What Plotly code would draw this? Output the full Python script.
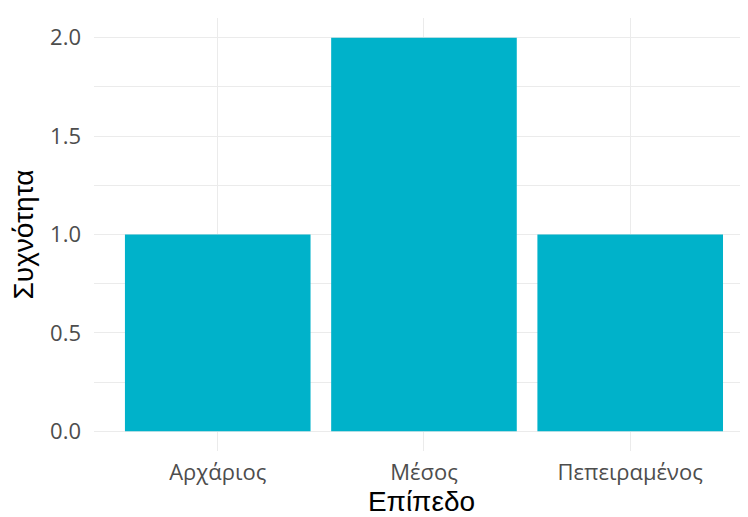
import plotly.graph_objects as go

categories = ["Αρχάριος", "Μέσος", "Πεπειραμένος"]
counts = [1, 2, 1]
y_ticks = [0.0, 0.5, 1.0, 1.5, 2.0]
y_tick_labels = ["0.0", "0.5", "1.0", "1.5", "2.0"]

fig = go.Figure(go.Bar(
    x=categories, y=counts, width=0.9,
    marker=dict(color="#00B2CA", line=dict(width=0)),
))

grid = "#EBEBEB"
fig.update_layout(
    width=748, height=517,
    margin=dict(l=86, r=7, t=10, b=74),
    paper_bgcolor="white", plot_bgcolor="white",
    showlegend=False,
    font=dict(family="Liberation Sans, Arial", color="black"),
)
fig.update_xaxes(
    automargin=False,
    range=[-0.6, 2.576], showgrid=True, gridcolor=grid, gridwidth=1.1,
    zeroline=False, showline=False, ticks="",
    tickfont=dict(family="Open Sans", size=22, color="#4D4D4D"),
    ticklabelstandoff=6,
    title=dict(text="Επίπεδο", font=dict(size=28, family="Liberation Sans"), standoff=0),
)
fig.update_yaxes(
    automargin=False,
    range=[-0.1, 2.1], tickvals=y_ticks, ticktext=y_tick_labels,
    showgrid=True, gridcolor=grid, gridwidth=1.1, zeroline=False,
    showline=False, ticks="",
    tickfont=dict(family="Open Sans", size=22, color="#4D4D4D"),
    ticklabelstandoff=12,
    minor=dict(dtick=0.25, tick0=0, showgrid=True, gridcolor=grid, gridwidth=0.6),
    title=dict(text="Συχνότητα", font=dict(size=28, family="Liberation Sans"), standoff=8),
)

fig.write_html("out.html")
